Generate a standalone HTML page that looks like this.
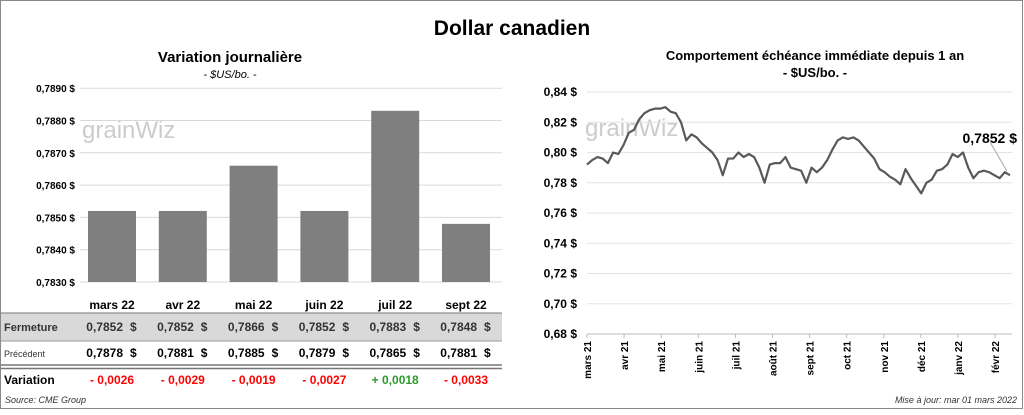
<!DOCTYPE html>
<html><head><meta charset="utf-8"><style>
body{margin:0;width:1024px;height:410px;overflow:hidden;background:#fff;font-family:"Liberation Sans",Arial,sans-serif}
svg text{font-family:"Liberation Sans",Arial,sans-serif}
</style></head><body>
<svg id="s" width="1024" height="410">
<rect x="0.5" y="0.5" width="1022" height="408" fill="#fff" stroke="#888"/>
<text x="512" y="35" text-anchor="middle" font-size="21" font-weight="bold">Dollar canadien</text>
<text x="230" y="62" text-anchor="middle" font-size="15" font-weight="bold">Variation  journalière</text>
<text x="230" y="78" text-anchor="middle" font-size="11" font-style="italic">- $US/bo. -</text>
<text x="815" y="60" text-anchor="middle" font-size="13" font-weight="bold">Comportement échéance immédiate depuis 1 an</text>
<text x="815" y="77" text-anchor="middle" font-size="13" font-weight="bold">- $US/bo. -</text>
<text x="82" y="138" font-size="24" fill="#ccc">grainWiz</text>
<text x="585" y="136" font-size="24" fill="#ccc">grainWiz</text>
<g id="left"></g>
<g id="right"></g>
<g id="tbl"></g>
<text x="5" y="403" font-size="9" font-style="italic" fill="#333">Source: CME Group</text>
<text x="1017" y="403" text-anchor="end" font-size="9" font-style="italic" fill="#333">Mise à jour: mar 01 mars 2022</text>
</svg>
<script>
const NS="http://www.w3.org/2000/svg";
const barCats=["mars 22","avr 22","mai 22","juin 22","juil 22","sept 22"];
const barVals=[0.7852,0.7852,0.7866,0.7852,0.7883,0.7848];
const prevVals=[0.7878,0.7881,0.7885,0.7879,0.7865,0.7881];
const barTicks=[0.7830,0.7840,0.7850,0.7860,0.7870,0.7880,0.7890];
const lineVals=[0.792,0.795,0.797,0.796,0.793,0.800,0.799,0.805,0.813,0.815,0.822,0.826,0.828,0.829,0.829,0.830,0.827,0.826,0.820,0.808,0.812,0.810,0.806,0.803,0.800,0.795,0.785,0.796,0.796,0.800,0.797,0.799,0.797,0.790,0.780,0.792,0.793,0.793,0.797,0.790,0.789,0.788,0.780,0.790,0.787,0.790,0.795,0.802,0.808,0.810,0.809,0.810,0.808,0.804,0.800,0.796,0.789,0.787,0.784,0.782,0.779,0.789,0.783,0.778,0.773,0.780,0.782,0.788,0.789,0.792,0.799,0.797,0.800,0.790,0.783,0.787,0.788,0.787,0.785,0.783,0.787,0.785];
const lineTicks=[0.68,0.70,0.72,0.74,0.76,0.78,0.80,0.82,0.84];
const monthLabels=["mars 21","avr 21","mai 21","juin 21","juil 21","août 21","sept 21","oct 21","nov 21","déc 21","janv 22","févr 22"];
const lastLabel="0,7852 $";
function mk(t,a,p,txt){const e=document.createElementNS(NS,t);for(const k in a)e.setAttribute(k,a[k]);if(txt!=null)e.textContent=txt;p.appendChild(e);return e;}
const fmt=v=>v.toFixed(4).replace('.',',');
const L=document.getElementById('left');
const by=v=>282-(v-0.7830)/0.0010*32.3;
const bx=i=>112+i*70.8;
barTicks.forEach(t=>{
 const g=mk('line',{x1:80,x2:502,y1:by(t),y2:by(t),stroke:'#d9d9d9'},L);
 
 const tx=mk('text',{x:75,y:by(t)+4,'text-anchor':'end','font-size':10,'font-weight':'bold'},L,fmt(t)+' $');
 
});
barVals.forEach((v,i)=>{
 const r=mk('rect',{x:bx(i)-24,y:by(v),width:48,height:282-by(v),fill:'#7f7f7f'},L);
 
});
const T=document.getElementById('tbl');
mk('rect',{x:1,y:313,width:501,height:28,fill:'#d9d9d9'},T);
mk('line',{x1:1,x2:502,y1:313,y2:313,stroke:'#777'},T);
mk('line',{x1:1,x2:502,y1:341,y2:341,stroke:'#999'},T);
mk('line',{x1:1,x2:502,y1:365,y2:365,stroke:'#777','stroke-width':1.5},T);
mk('line',{x1:1,x2:502,y1:368.5,y2:368.5,stroke:'#777','stroke-width':1.5},T);
let e;
e=mk('text',{x:4,y:331,'font-size':11,'font-weight':'bold',fill:'#333'},T,'Fermeture');
e=mk('text',{x:4,y:357,'font-size':9,fill:'#333'},T,'Précédent');
e=mk('text',{x:4,y:384,'font-size':12,'font-weight':'bold'},T,'Variation');
barCats.forEach((c,i)=>{
 const x=bx(i);
 e=mk('text',{x:x,y:309,'text-anchor':'middle','font-size':12,'font-weight':'bold'},T,c);
 e=mk('text',{x:x+11,y:331,'text-anchor':'end','font-size':12,'font-weight':'bold',fill:'#333'},T,fmt(barVals[i]));
 mk('text',{x:x+18,y:331,'font-size':12,'font-weight':'bold',fill:'#333'},T,'$');
 e=mk('text',{x:x+11,y:357,'text-anchor':'end','font-size':12,'font-weight':'bold'},T,fmt(prevVals[i]));
 mk('text',{x:x+18,y:357,'font-size':12,'font-weight':'bold'},T,'$');
 const d=barVals[i]-prevVals[i];
 e=mk('text',{x:x,y:384,'text-anchor':'middle','font-size':12,'font-weight':'bold',fill:d>=0?'#2e9a2e':'#ff0000'},T,(d>=0?'+ ':'- ')+fmt(Math.abs(d)));
});
const R=document.getElementById('right');
const ly=v=>334-(v-0.68)/0.02*30.25;
const x0=587,x1=1010;
const lx=i=>x0+i*(x1-x0)/(lineVals.length-1);
lineTicks.forEach(t=>{
 const g=mk('line',{x1:587,x2:1012,y1:ly(t),y2:ly(t),stroke:t==0.68?'#bbb':'#e3e3e3'},R);
 
 const tx=mk('text',{x:577,y:ly(t)+4,'text-anchor':'end','font-size':12,'font-weight':'bold'},R,t.toFixed(2).replace('.',',')+' $');
 
});
monthLabels.forEach((m,i)=>{
 const x=587+i*37.1;
 mk('line',{x1:x,x2:x,y1:334,y2:338,stroke:'#bbb'},R);
 const tx=mk('text',{x:0,y:0,transform:`translate(${x+4},341) rotate(-90)`,'text-anchor':'end','font-size':10,'font-weight':'bold'},R,m);
 
});
const pl=mk('polyline',{points:lineVals.map((v,i)=>lx(i)+','+ly(v)).join(' '),fill:'none',stroke:'#595959','stroke-width':2.2,'stroke-linejoin':'round'},R);

const lv=lineVals[lineVals.length-1];
mk('line',{x1:990,y1:142,x2:lx(lineVals.length-1)-3,y2:ly(lv)-4,stroke:'#aaa'},R);
e=mk('text',{x:1017,y:143,'text-anchor':'end','font-size':14,'font-weight':'bold'},R,lastLabel);

</script>
</body></html>
